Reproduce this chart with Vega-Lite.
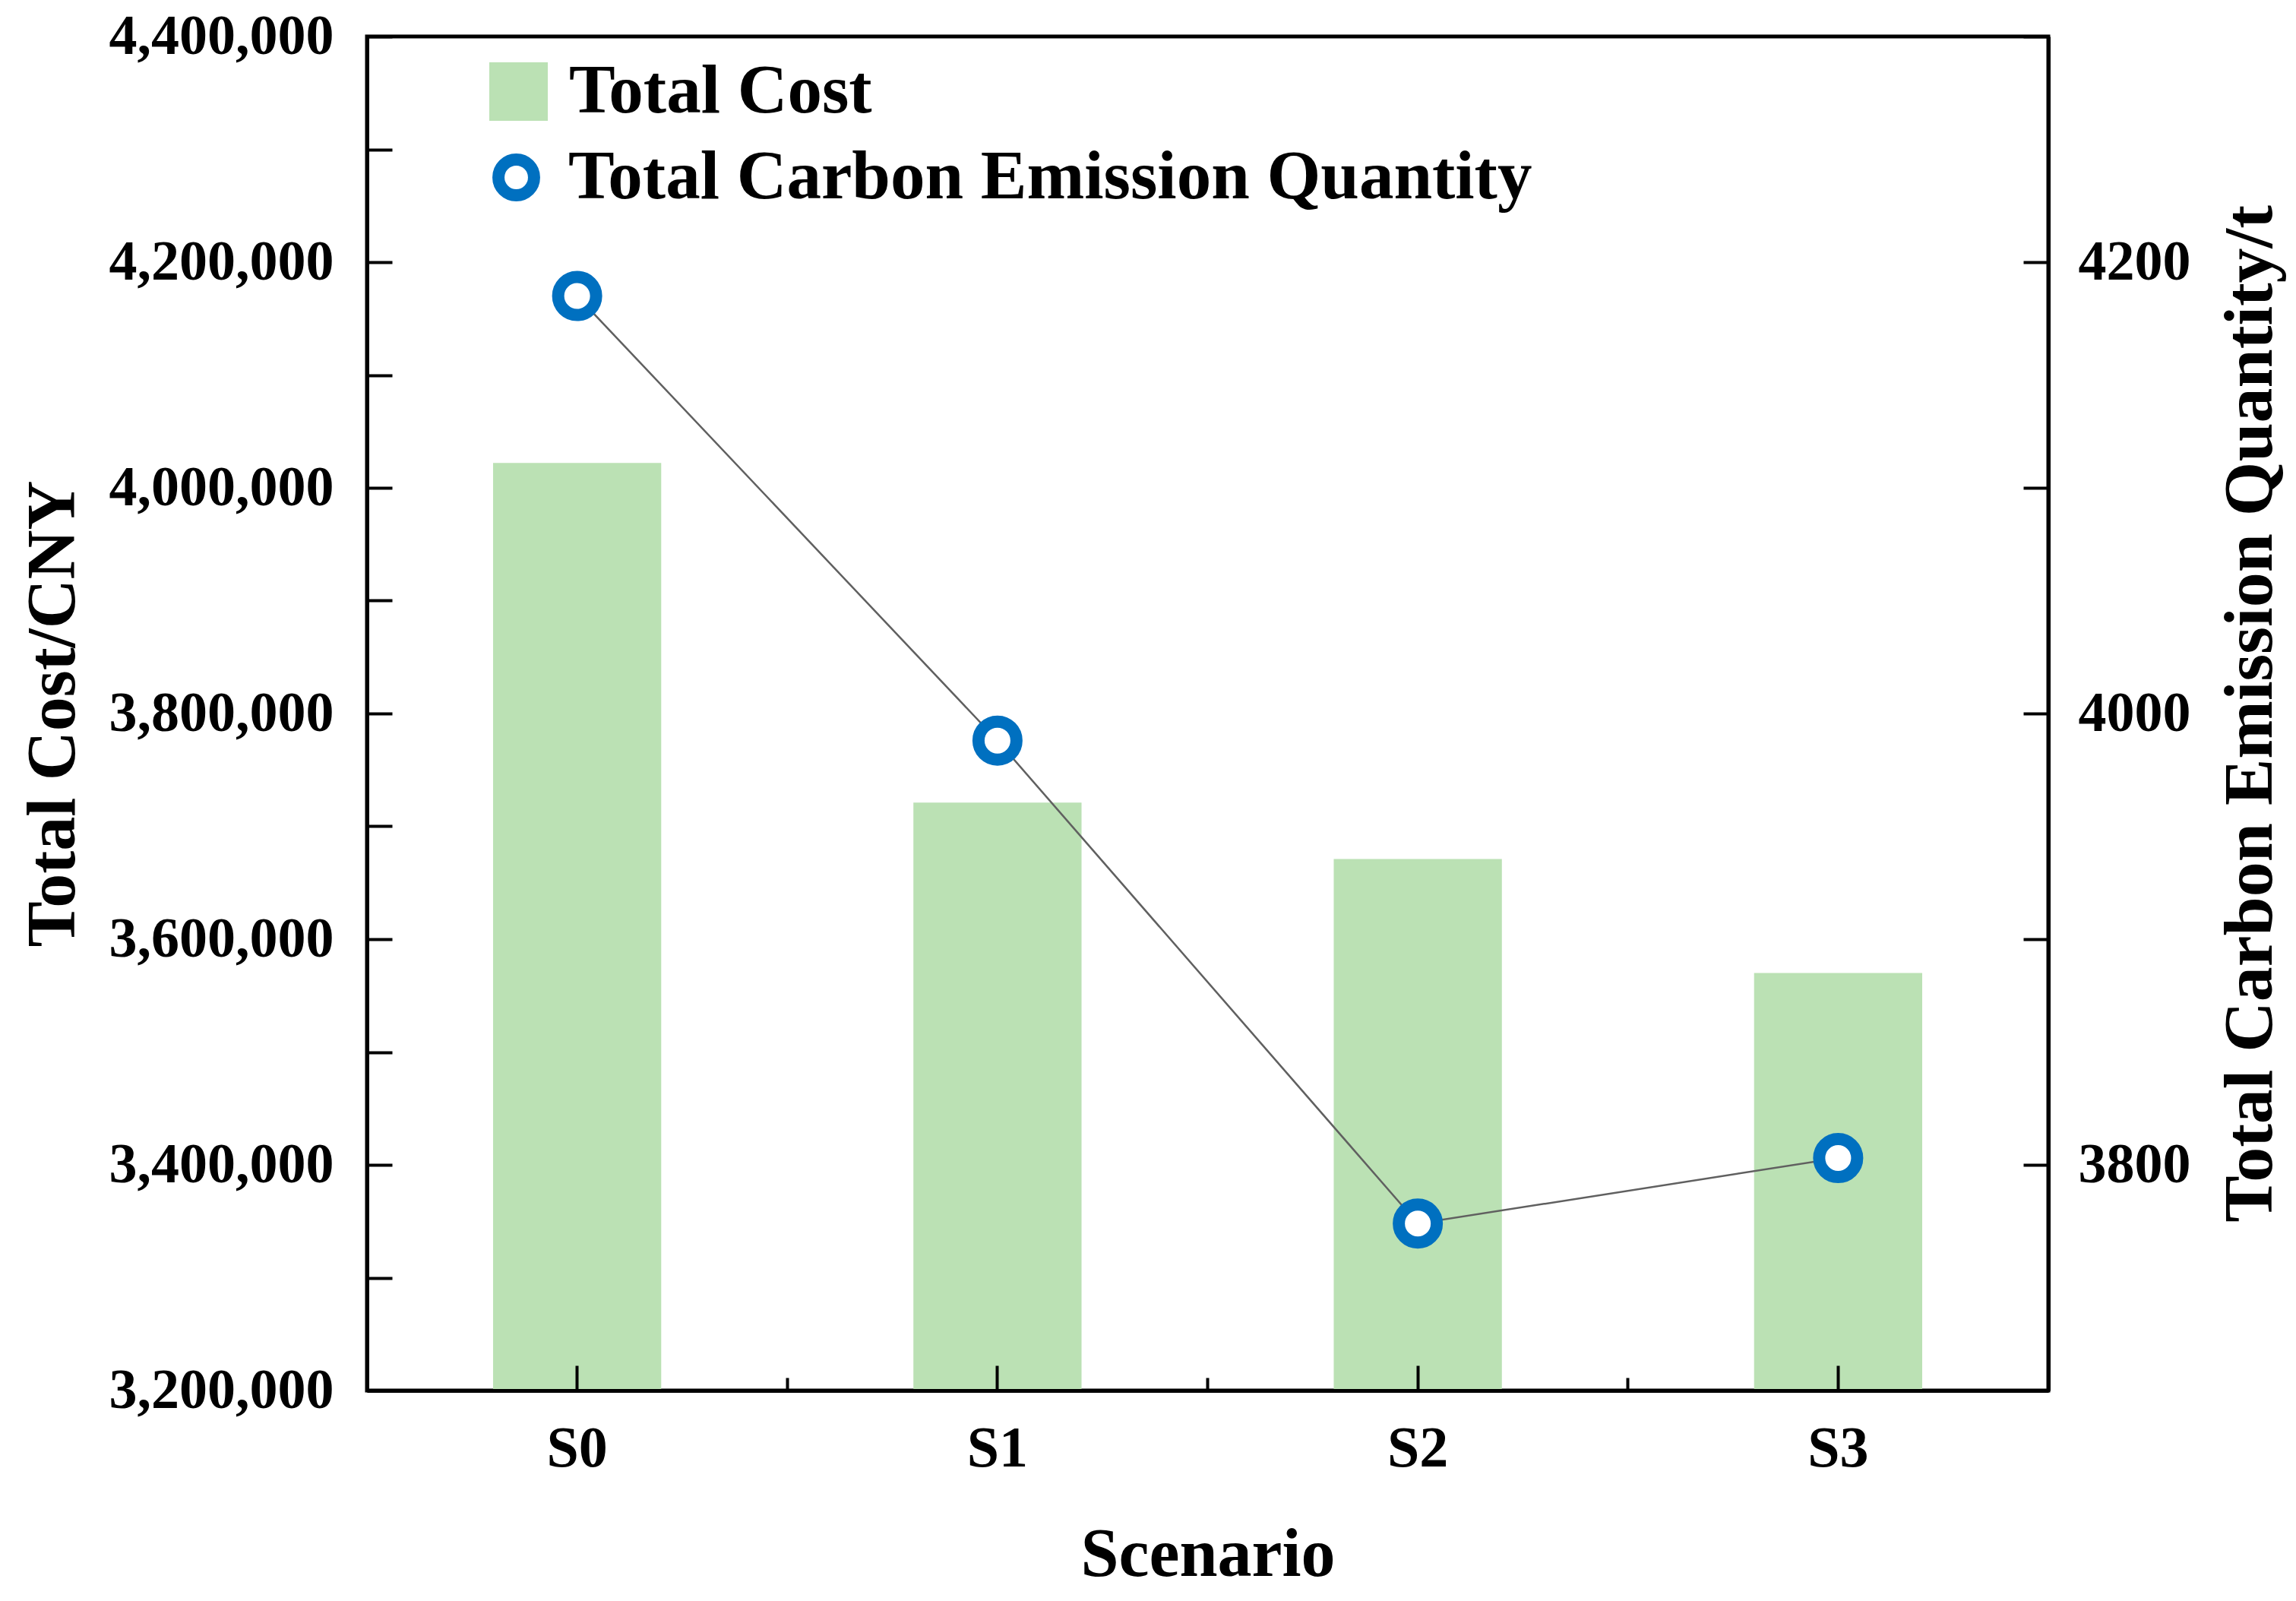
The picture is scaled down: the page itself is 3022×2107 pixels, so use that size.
{
  "$schema": "https://vega.github.io/schema/vega-lite/v6.json",
  "width": 2213,
  "height": 1782,
  "autosize": {"type": "none"},
  "padding": {"left": 483, "top": 48, "right": 326, "bottom": 277},
  "background": "white",
  "config": {
    "view": {"stroke": "black", "strokeWidth": 5},
    "font": "Liberation Serif",
    "axis": {
      "labelFont": "Liberation Serif", "labelFontWeight": "bold", "labelColor": "black", "labelFontSize": 74, "labelLimit": 0,
      "titleFont": "Liberation Serif", "titleFontWeight": "bold", "titleColor": "black", "titleFontSize": 90,
      "domainColor": "black", "domainWidth": 5, "tickColor": "black", "tickWidth": 4, "grid": false, "zindex": 2
    },
    "legend": {
      "labelFont": "Liberation Serif", "labelFontWeight": "bold", "labelFontSize": 91, "labelColor": "black",
      "labelLimit": 0, "padding": 0, "title": null
    }
  },
  "datasets": {
    "cost": [
      {"scenario": "S0", "cost": 4022000},
      {"scenario": "S1", "cost": 3721000},
      {"scenario": "S2", "cost": 3671000},
      {"scenario": "S3", "cost": 3570000}
    ],
    "carbon": [
      {"scenario": "S0", "carbon": 4185},
      {"scenario": "S1", "carbon": 3988},
      {"scenario": "S2", "carbon": 3774},
      {"scenario": "S3", "carbon": 3803}
    ]
  },
  "layer": [
    {
      "data": {"name": "cost"},
      "mark": {"type": "bar"},
      "encoding": {
        "x": {
          "field": "scenario", "type": "nominal", "sort": null,
          "scale": {"paddingInner": 0.6, "paddingOuter": 0.3},
          "axis": {"orient": "bottom", "title": "Scenario", "labelAngle": 0, "tickSize": -33, "labelPadding": 72, "labelFontSize": 76, "titlePadding": 58, "zindex": 2}
        },
        "y": {
          "field": "cost", "type": "quantitative",
          "scale": {"domain": [3200000, 4400000], "zero": false, "nice": false},
          "axis": {
            "orient": "left", "title": "Total Cost/CNY", "zindex": 2,
            "values": [3200000, 3300000, 3400000, 3500000, 3600000, 3700000, 3800000, 3900000, 4000000, 4100000, 4200000, 4300000, 4400000],
            "labelExpr": "datum.value % 200000 === 0 ? format(datum.value, ',') : ''",
            "tickSize": -33, "labelPadding": 77, "titleX": -367, "titleY": 891,
            "encode": {"ticks": {"update": {"x2": {"signal": "datum.value % 200000 === 0 ? 33 : 17"}}}}
          }
        },
        "y2": {"datum": 3200000},
        "fill": {
          "datum": "Total Cost", "type": "nominal",
          "scale": {"domain": ["Total Cost"], "range": ["#bbe1b4"]},
          "legend": {
            "orient": "none", "legendX": 154, "legendY": 27, "direction": "vertical",
            "symbolType": "square", "symbolSize": 5929, "symbolStrokeWidth": 0, "labelOffset": 21
          }
        }
      }
    },
    {
      "data": {"name": "carbon"},
      "mark": {"type": "line", "color": "#606060", "strokeWidth": 2.5},
      "encoding": {
        "x": {
          "field": "scenario", "type": "nominal", "sort": null,
          "axis": {"orient": "bottom", "labels": false, "domain": false, "title": null, "tickSize": -17, "bandPosition": 1.75, "zindex": 2}
        },
        "y": {
          "field": "carbon", "type": "quantitative",
          "scale": {"domain": [3700, 4300], "zero": false, "nice": false},
          "axis": {
            "orient": "right", "title": "Total Carbon Emission Quantity/t", "titleAngle": 270, "titleBaseline": "top", "titleFontSize": 92, "zindex": 2,
            "values": [3700, 3800, 3900, 4000, 4100, 4200, 4300],
            "labelExpr": "datum.value % 200 === 0 ? format(datum.value, 'd') : ''",
            "tickSize": -33, "labelPadding": 72, "titlePadding": 33,
            "encode": {"ticks": {"update": {"x2": {"signal": "datum.value % 200 === 0 ? -33 : -17"}}}}
          }
        }
      }
    },
    {
      "data": {"name": "carbon"},
      "mark": {"type": "point", "filled": true, "fill": "white", "size": 2500, "opacity": 1, "strokeWidth": 0},
      "encoding": {
        "x": {"field": "scenario", "type": "nominal", "sort": null, "axis": null},
        "y": {"field": "carbon", "type": "quantitative", "scale": {"domain": [3700, 4300], "zero": false, "nice": false}, "axis": null}
      }
    },
    {
      "data": {"name": "carbon"},
      "mark": {"type": "point", "filled": false, "size": 2500, "strokeWidth": 16, "opacity": 1},
      "encoding": {
        "x": {"field": "scenario", "type": "nominal", "sort": null, "axis": null},
        "y": {"field": "carbon", "type": "quantitative", "scale": {"domain": [3700, 4300], "zero": false, "nice": false}, "axis": null},
        "stroke": {
          "datum": "Total Carbon Emission Quantity", "type": "nominal",
          "scale": {"domain": ["Total Carbon Emission Quantity"], "range": ["#0070c0"]},
          "legend": {
            "orient": "none", "legendX": 151, "legendY": 140, "direction": "vertical",
            "symbolType": "circle", "symbolSize": 2200, "symbolStrokeWidth": 16, "symbolFillColor": "white", "labelOffset": 23
          }
        }
      }
    }
  ],
  "resolve": {"scale": {"y": "independent"}, "axis": {"x": "independent", "y": "independent"}}
}
